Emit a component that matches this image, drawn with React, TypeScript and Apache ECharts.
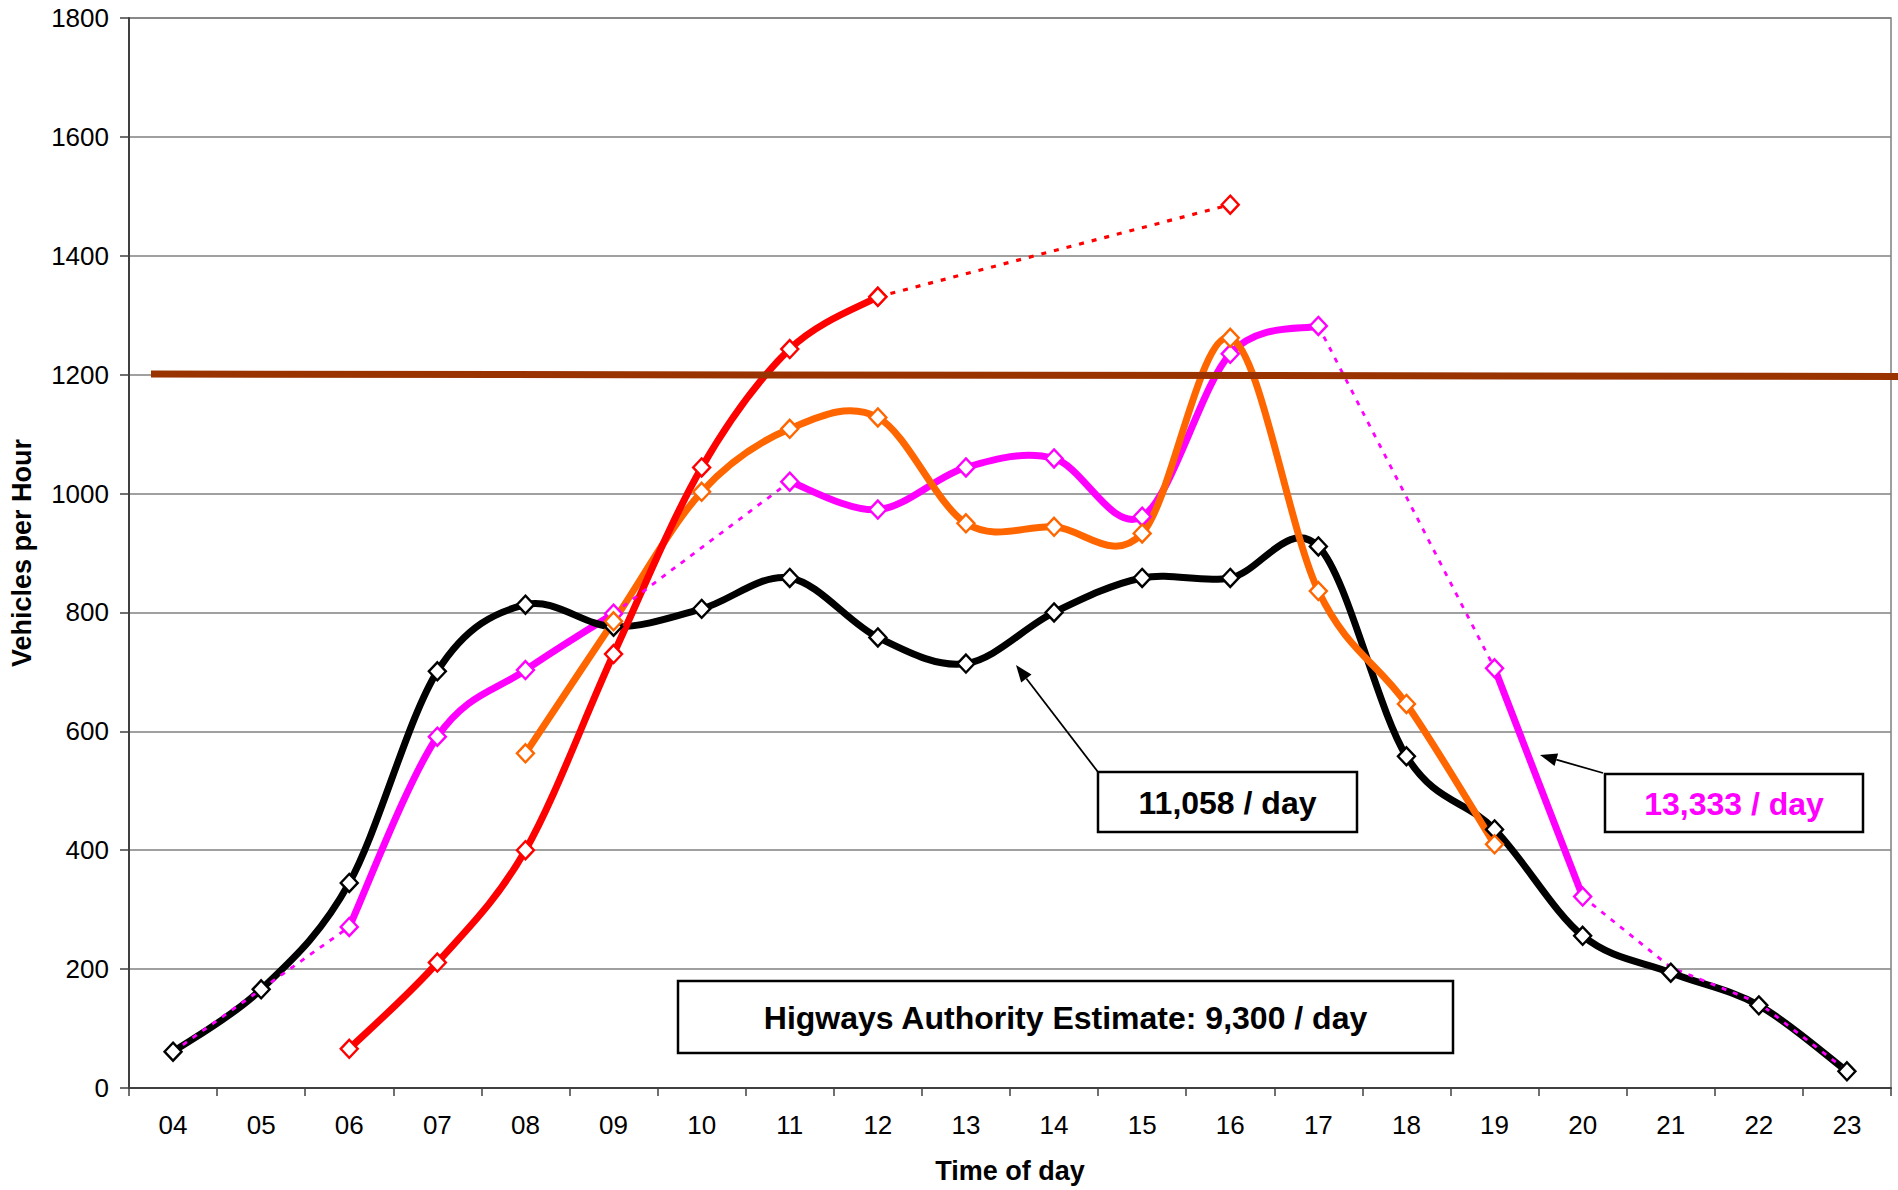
import React, { useEffect, useRef } from "react";
import * as echarts from "echarts";

const hours = ["04", "05", "06", "07", "08", "09", "10", "11", "12", "13", "14", "15", "16", "17", "18", "19", "20", "21", "22", "23"];

// Solid counted series (vehicles per hour)
const countBlack = [61, 166, 345, 701, 813, 776, 806, 858, 758, 714, 800, 858, 858, 911, 558, 435, 256, 194, 139, 28];
const countMagenta = [null, null, 271, 591, 703, 798, null, 1020, 973, 1044, 1059, 961, 1235, 1282, null, 706, 322, null, null, null];
const countOrange = [null, null, null, null, 563, 785, 1003, 1109, 1128, 950, 944, 933, 1262, 836, 646, 410, null, null, null, null];
const countRed = [null, null, 66, 211, 400, 730, 1044, 1243, 1331, null, null, null, null, null, null, null, null, null, null, null];

// Dotted (estimated) links
const redEstimate = [null, null, null, null, null, null, null, null, 1331, null, null, null, 1486, null, null, null, null, null, null, null];
const magentaEstimateEarly = [61, 166, 271, null, null, null, null, null, null, null, null, null, null, null, null, null, null, null, null, null];
const magentaEstimateMid = [null, null, null, null, null, 798, null, 1020, null, null, null, null, null, null, null, null, null, null, null, null];
const magentaEstimateEve = [null, null, null, null, null, null, null, null, null, null, null, null, null, 1282, null, 706, null, null, null, null];
const magentaEstimateLate = [null, null, null, null, null, null, null, null, null, null, null, null, null, null, null, null, 322, 203, 143, 29];

// Capacity line
const capacityStart = 1201;
const capacityEnd = 1197;

const yTicks = { min: 0, max: 1800, interval: 200 };

const FONT = '"Liberation Sans", Arial, sans-serif';

// Smoothed (Catmull-Rom / spreadsheet style) curve drawn through the axes' own coordinates
function curveSeries(name: string, values: (number | null)[], color: string, width: number) {
  return {
    name,
    type: "custom",
    coordinateSystem: "cartesian2d",
    data: [[0, 0]],
    encode: { x: 0, y: 1 },
    silent: true,
    clip: false,
    renderItem: (_params: any, api: any) => {
      const segments: number[][][] = [];
      let cur: number[][] = [];
      values.forEach((v, i) => {
        if (v == null) {
          if (cur.length) segments.push(cur);
          cur = [];
        } else {
          cur.push(api.coord([i, v]));
        }
      });
      if (cur.length) segments.push(cur);
      const children = segments
        .filter((s) => s.length > 1)
        .map((p) => {
          let d = `M${p[0][0]},${p[0][1]}`;
          for (let i = 0; i < p.length - 1; i++) {
            const p0 = p[i - 1] || p[i];
            const p1 = p[i];
            const p2 = p[i + 1];
            const p3 = p[i + 2] || p[i + 1];
            const c1x = p1[0] + (p2[0] - p0[0]) / 6;
            const c1y = p1[1] + (p2[1] - p0[1]) / 6;
            const c2x = p2[0] - (p3[0] - p1[0]) / 6;
            const c2y = p2[1] - (p3[1] - p1[1]) / 6;
            d += ` C${c1x},${c1y} ${c2x},${c2y} ${p2[0]},${p2[1]}`;
          }
          return {
            type: "path",
            shape: { pathData: d },
            style: { stroke: color, lineWidth: width, fill: "none", lineJoin: "round", lineCap: "round" },
          };
        });
      return { type: "group", children };
    },
  };
}

function markerSeries(name: string, data: (number | null)[], color: string) {
  return {
    name,
    type: "line",
    data,
    connectNulls: false,
    symbol: "diamond",
    symbolSize: [17, 18],
    showSymbol: true,
    clip: false,
    lineStyle: { color, width: 0, opacity: 0 },
    itemStyle: { color: "#ffffff", borderColor: color, borderWidth: 2.4 },
    emphasis: { disabled: true },
  };
}

function dottedSeries(name: string, data: (number | null)[], color: string, withSymbol: boolean, width: number, dash: number[]) {
  return {
    name,
    type: "line",
    data,
    smooth: false,
    connectNulls: true,
    symbol: withSymbol ? "diamond" : "none",
    symbolSize: [17, 18],
    showSymbol: withSymbol,
    lineStyle: { color, width, type: dash },
    itemStyle: { color: "#ffffff", borderColor: color, borderWidth: 2.4 },
    emphasis: { disabled: true },
  };
}

function arrow(x1: number, y1: number, tx: number, ty: number) {
  const dx = tx - x1;
  const dy = ty - y1;
  const len = Math.sqrt(dx * dx + dy * dy);
  const ux = dx / len;
  const uy = dy / len;
  const head = 17;
  const half = 6.5;
  const bx = tx - head * ux;
  const by = ty - head * uy;
  const nx = -uy;
  const ny = ux;
  return [
    {
      type: "line",
      z: 100,
      shape: { x1, y1, x2: bx, y2: by },
      style: { stroke: "#000", lineWidth: 1.8 },
    },
    {
      type: "polygon",
      z: 100,
      shape: {
        points: [
          [tx, ty],
          [bx + half * nx, by + half * ny],
          [bx - half * nx, by - half * ny],
        ],
      },
      style: { fill: "#000" },
    },
  ];
}

function box(x: number, y: number, w: number, h: number, text: string, color: string) {
  return [
    {
      type: "rect",
      z: 100,
      shape: { x, y, width: w, height: h },
      style: { fill: "#ffffff", stroke: "#000", lineWidth: 2.5 },
    },
    {
      type: "text",
      z: 101,
      x: x + w / 2,
      y: y + h / 2 + 1,
      style: {
        text,
        fill: color,
        fontFamily: FONT,
        fontWeight: "bold",
        fontSize: 32,
        align: "center",
        verticalAlign: "middle",
      },
    },
  ];
}

export default function App() {
  const ref = useRef<HTMLDivElement | null>(null);

  useEffect(() => {
    document.body.style.margin = "0";
    if (!ref.current) return;
    const chart = echarts.init(ref.current, null, { renderer: "svg" });

    const capacitySeries = {
      name: "Capacity",
      type: "line",
      data: [] as number[],
      symbol: "none",
      lineStyle: { opacity: 0 },
      clip: false,
      markLine: {
        silent: true,
        symbol: ["none", "none"],
        label: { show: false },
        lineStyle: { color: "#993300", width: 7, type: "solid" },
        emphasis: { disabled: true },
        data: [[{ x: 151, yAxis: capacityStart }, { x: 1898, yAxis: capacityEnd }]],
      },
    };

    const option = {
      animation: false,
      backgroundColor: "#ffffff",
      textStyle: { fontFamily: FONT },
      grid: {
        left: 125,
        right: 7,
        top: 18,
        bottom: 102,
        show: true,
        borderColor: "#808080",
        borderWidth: 1.5,
        backgroundColor: "transparent",
      },
      xAxis: {
        type: "category",
        data: hours,
        boundaryGap: true,
        name: "Time of day",
        nameLocation: "middle",
        nameGap: 69,
        nameTextStyle: { fontFamily: FONT, fontWeight: "bold", fontSize: 27, color: "#000" },
        axisLine: { show: true, lineStyle: { color: "#404040", width: 2 } },
        axisTick: { show: true, length: 8, lineStyle: { color: "#404040", width: 1.5 } },
        axisLabel: { fontFamily: FONT, fontSize: 26, color: "#000", margin: 24 },
        splitLine: { show: false },
      },
      yAxis: {
        type: "value",
        min: yTicks.min,
        max: yTicks.max,
        interval: yTicks.interval,
        name: "Vehicles per Hour",
        nameLocation: "middle",
        nameGap: 94,
        nameTextStyle: { fontFamily: FONT, fontWeight: "bold", fontSize: 27, color: "#000" },
        axisLine: { show: true, lineStyle: { color: "#404040", width: 2 } },
        axisTick: { show: true, length: 9, lineStyle: { color: "#404040", width: 1.5 } },
        axisLabel: {
          fontFamily: FONT,
          fontSize: 26,
          color: "#000",
          margin: 20,
          formatter: (v: number) => String(v),
        },
        splitLine: { show: true, lineStyle: { color: "#808080", width: 1.5 } },
      },
      series: [
        curveSeries("Count B curve", countMagenta, "#FF00FF", 7),
        curveSeries("Count A curve", countBlack, "#000000", 7),
        dottedSeries("Estimate B early", magentaEstimateEarly, "#FF00FF", false, 2.8, [5, 7]),
        dottedSeries("Estimate B mid", magentaEstimateMid, "#FF00FF", false, 2.8, [5, 7]),
        dottedSeries("Estimate B evening", magentaEstimateEve, "#FF00FF", false, 2.8, [5, 7]),
        dottedSeries("Estimate B late", magentaEstimateLate, "#FF00FF", false, 2.8, [5, 7]),
        curveSeries("Count C curve", countOrange, "#FF6600", 7),
        dottedSeries("Estimate D", redEstimate, "#FF0000", true, 3.2, [5, 8]),
        curveSeries("Count D curve", countRed, "#FF0000", 7),
        markerSeries("Count B", countMagenta, "#FF00FF"),
        markerSeries("Count A", countBlack, "#000000"),
        markerSeries("Count C", countOrange, "#FF6600"),
        markerSeries("Count D", countRed, "#FF0000"),
        capacitySeries,
      ],
      graphic: [
        ...arrow(1098, 772, 1016, 665),
        ...arrow(1603, 773, 1540, 755),
        ...box(678, 981, 775, 72, "Higways Authority Estimate: 9,300 / day", "#000000"),
        ...box(1098, 772, 259, 60, "11,058 / day", "#000000"),
        ...box(1605, 774, 258, 58, "13,333 / day", "#FF00FF"),
      ],
    };

    chart.setOption(option as any);
    return () => {
      chart.dispose();
    };
  }, []);

  return (
    <div
      ref={ref}
      style={{ position: "absolute", left: 0, top: 0, width: "1898px", height: "1190px" }}
    />
  );
}
